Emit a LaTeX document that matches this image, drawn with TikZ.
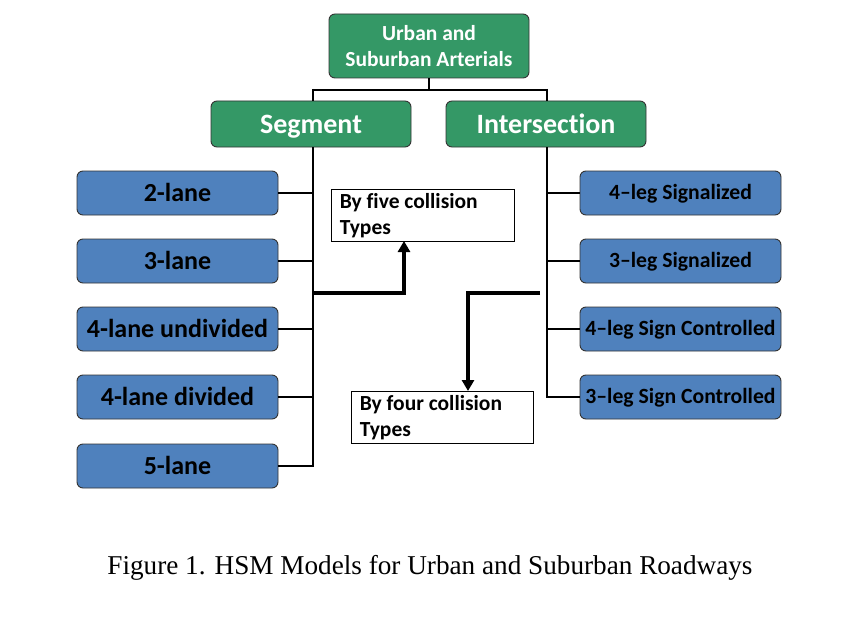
\documentclass[tikz,border=0pt]{standalone}
\usepackage{fontspec}
\setmainfont[Ligatures=NoCommon]{Carlito}
\newfontfamily\capfont{Liberation Serif}
\usetikzlibrary{arrows.meta}
\definecolor{hsmgreen}{RGB}{52,152,102}
\definecolor{hsmblue}{RGB}{79,129,189}
\begin{document}
\begin{tikzpicture}[x=1pt,y=-1pt,
  gbox/.style={draw=black!80,line width=0.9pt,fill=hsmgreen,rounded corners=6pt,text=white,font=\bfseries,align=center,inner sep=0pt},
  bbox/.style={draw=black!80,line width=0.9pt,fill=hsmblue,rounded corners=6pt,text=black,font=\bfseries,inner sep=0pt,text depth=0pt},
  tbox/.style={draw=black,line width=0.8pt,fill=white,inner sep=0pt},
  conn/.style={line width=2pt},
  thick arrow/.style={line width=4pt,-{Triangle[length=11pt,width=12pt]}}]
\useasboundingbox (0,0) rectangle (868,618);
\fill[white] (0,0) rectangle (868,618);
% top
\node[gbox,minimum width=200pt,minimum height=64pt,font=\fontsize{21.5}{26}\selectfont\bfseries] (top) at (429,46) {Urban and\\Suburban Arterials};
\node[gbox,minimum width=200pt,minimum height=46pt,text height=18pt,text depth=0pt,font=\fontsize{28}{30}\selectfont\bfseries] (seg) at (311,124) {Segment};
\node[gbox,minimum width=200pt,minimum height=46pt,text height=18pt,text depth=0pt,font=\fontsize{28}{30}\selectfont\bfseries] (int) at (546,124) {Intersection};
% left boxes
\foreach \n/\y/\t in {l1/193/2-lane,l2/261/3-lane,l3/329/4-lane undivided,l4/397/4-lane divided,l5/466/5-lane}{
  \node[bbox,minimum width=201pt,minimum height=44pt,text height=16.5pt,font=\fontsize{26}{28}\selectfont\bfseries] (\n) at (177.5,\y) {\t};
}
% right boxes
\foreach \n/\y/\t in {r1/193/4–leg Signalized,r2/261/3–leg Signalized,r3/329/4–leg Sign Controlled,r4/397/3–leg Sign Controlled}{
  \node[bbox,minimum width=201pt,minimum height=44pt,text height=13pt,font=\fontsize{21.7}{24}\selectfont\bfseries] (\n) at (680.5,\y) {\t};
}
% text boxes
\node[tbox,minimum width=183pt,minimum height=52pt] (five) at (422.5,215) {};
\node[anchor=north west,align=left,inner sep=0pt,font=\fontsize{21.5}{26}\selectfont\bfseries] (fivet) at ([xshift=9pt,yshift=-5pt]five.north west) {By five collision\\Types};
\node[tbox,minimum width=182pt,minimum height=52pt] (four) at (442,417) {};
\node[anchor=north west,align=left,inner sep=0pt,font=\fontsize{21.5}{26}\selectfont\bfseries] (fourt) at ([xshift=9pt,yshift=-5pt]four.north west) {By four collision\\Types};
% connectors
\coordinate (j) at (429,90);
\coordinate (segx) at (313,147);
\coordinate (intx) at (547,147);
\draw[conn] (top.south) -- (j);
\draw[conn] (313,90) -- (547,90);
\draw[conn] (313,89) -- (313,101);
\draw[conn] (547,89) -- (547,101);
\coordinate (lb) at (313,467);
\coordinate (rb) at (547,398);
\draw[conn] (segx) -- (lb);
\draw[conn] (intx) -- (rb);
\foreach \n in {l1,l2,l3,l4,l5}{ \draw[conn] (\n.east) -- (\n.east -| segx); }
\foreach \n in {r1,r2,r3,r4}{ \draw[conn] (\n.west -| intx) -- (\n.west); }
% thick arrows
\coordinate (a1s) at (312,293);
\coordinate (a2s) at (540,293);
\draw[thick arrow] (a1s) -- (404,293) -- (404,241);
\draw[thick arrow] (a2s) -- (468,293) -- (468,391);
% caption
\node[font=\capfont\fontsize{27.2}{30}\selectfont] (cap) at (430,568) {Figure 1. HSM Models for Urban and Suburban Roadways};
\end{tikzpicture}
\end{document}
